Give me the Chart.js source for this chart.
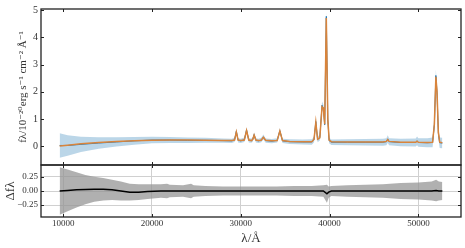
<!DOCTYPE html>
<html>
<head>
<meta charset="utf-8">
<script src="https://cdn.jsdelivr.net/npm/chart.js@4.4.1/dist/chart.umd.min.js"></script>
<style>
  body { margin: 0; background: #fff; }
  #wrap { position: relative; width: 465px; height: 248px; }
  canvas { position: absolute; left: 0; top: 0; }
</style>
</head>
<body>
<div id="wrap">
  <canvas id="spec" width="465" height="248"></canvas>
  <canvas id="resid" width="465" height="248"></canvas>
</div>
<script>
// spectrum (top panel), wavelength in Angstrom
const wave = [9600, 10500, 12000, 14000, 16000, 18000, 20000, 22000, 24000, 26000,
  28000, 29000, 29300, 29500, 29700, 30000, 30400, 30650, 30900, 31200,
  31350, 31500, 31700, 32000, 32300, 32550, 32800, 33500, 34100, 34400,
  34700, 35500, 37000, 38000, 38250, 38450, 38650, 38900, 39150, 39300,
  39450, 39630, 39800, 39950, 40200, 42000, 44000, 46000, 46400, 46550,
  46700, 48000, 49700, 49850, 50000, 51000, 51600, 51800, 51970, 52100,
  52250, 52400, 52700];
const fluxObs = [0.02, 0.02, 0.06, 0.11, 0.15, 0.19, 0.22, 0.22, 0.21, 0.21,
  0.20, 0.19, 0.23, 0.54, 0.21, 0.19, 0.23, 0.59, 0.21, 0.20,
  0.24, 0.42, 0.21, 0.19, 0.22, 0.33, 0.20, 0.18, 0.21, 0.56,
  0.19, 0.16, 0.15, 0.15, 0.24, 0.90, 0.24, 0.31, 1.50, 1.38,
  0.78, 4.78, 0.96, 0.20, 0.14, 0.14, 0.14, 0.14, 0.16, 0.26,
  0.16, 0.13, 0.13, 0.19, 0.13, 0.12, 0.13, 0.78, 2.60, 1.96,
  0.48, 0.12, 0.11];
const fluxModel = [0.00, 0.03, 0.08, 0.13, 0.17, 0.19, 0.21, 0.22, 0.22, 0.21,
  0.20, 0.20, 0.22, 0.52, 0.22, 0.20, 0.22, 0.57, 0.22, 0.20,
  0.25, 0.40, 0.22, 0.20, 0.21, 0.32, 0.21, 0.19, 0.20, 0.55,
  0.20, 0.17, 0.16, 0.16, 0.25, 0.88, 0.25, 0.30, 1.45, 1.40,
  0.80, 4.72, 1.00, 0.22, 0.16, 0.15, 0.15, 0.15, 0.17, 0.24,
  0.17, 0.14, 0.14, 0.18, 0.14, 0.13, 0.14, 0.80, 2.55, 2.00,
  0.50, 0.14, 0.12];
const fluxErr = [0.45, 0.38, 0.28, 0.21, 0.17, 0.14, 0.12, 0.11, 0.10, 0.09,
  0.08, 0.08, 0.08, 0.10, 0.08, 0.08, 0.08, 0.10, 0.08, 0.08,
  0.08, 0.09, 0.08, 0.08, 0.08, 0.09, 0.08, 0.08, 0.08, 0.10,
  0.08, 0.09, 0.09, 0.10, 0.10, 0.12, 0.10, 0.11, 0.14, 0.14,
  0.12, 0.18, 0.14, 0.10, 0.10, 0.11, 0.12, 0.13, 0.13, 0.14,
  0.13, 0.14, 0.15, 0.16, 0.16, 0.17, 0.18, 0.19, 0.22, 0.21,
  0.19, 0.19, 0.19];

// residuals (bottom panel)
const resWave = [9600, 10500, 11500, 12500, 13500, 14500, 15500, 16500, 17500, 18500,
  19500, 21000, 21700, 22000, 23500, 24400, 24700, 26000, 28000, 30000,
  32000, 34000, 36000, 38000, 39300, 39700, 39900, 40200, 42000, 44000,
  46000, 48000, 50000, 51500, 52000, 52300, 52700];
const resVal = [0.00, 0.01, 0.02, 0.025, 0.03, 0.03, 0.02, 0.00, -0.02, -0.02,
  -0.01, 0.00, 0.00, 0.00, 0.00, 0.00, 0.00, 0.00, 0.00, 0.00,
  0.00, 0.00, 0.00, 0.00, 0.00, -0.05, -0.02, 0.00, 0.00, 0.00,
  0.00, 0.00, 0.00, 0.00, 0.01, 0.00, 0.00];
const resErr = [0.42, 0.37, 0.31, 0.26, 0.22, 0.20, 0.18, 0.17, 0.15, 0.14,
  0.13, 0.12, 0.13, 0.11, 0.10, 0.13, 0.10, 0.09, 0.08, 0.08,
  0.08, 0.08, 0.09, 0.09, 0.10, 0.16, 0.10, 0.09, 0.10, 0.11,
  0.12, 0.14, 0.15, 0.17, 0.19, 0.17, 0.16];

const xTicks = [10000, 20000, 30000, 40000, 50000];
const xMin = 7500, xMax = 54800;

const serif = "'Liberation Serif', 'DejaVu Serif', serif";
const pts = (xs, ys) => xs.map((x, i) => ({ x: x, y: ys[i] }));
const setXTicks = s => { s.ticks = xTicks.map(v => ({ value: v })); };

// matplotlib-style frame with inward ticks on all four sides
const framePlugin = {
    id: 'frame',
    afterDraw(chart) {
        const { ctx, chartArea: a, scales } = chart;
        ctx.save();
        ctx.strokeStyle = '#222';
        ctx.lineWidth = 1;
        ctx.beginPath();
        xTicks.forEach(v => {
            const px = Math.round(scales.x.getPixelForValue(v)) + 0.5;
            ctx.moveTo(px, a.bottom); ctx.lineTo(px, a.bottom - 3);
            ctx.moveTo(px, a.top); ctx.lineTo(px, a.top + 3);
        });
        scales.y.ticks.forEach(t => {
            const py = Math.round(scales.y.getPixelForValue(t.value)) + 0.5;
            ctx.moveTo(a.left, py); ctx.lineTo(a.left + 3, py);
            ctx.moveTo(a.right, py); ctx.lineTo(a.right - 3, py);
        });
        ctx.stroke();
        ctx.lineWidth = 1.3;
        ctx.strokeRect(a.left, a.top, a.width, a.height);
        ctx.restore();
    }
};

function fixWidth(w) { return s => { s.width = w; }; }

new Chart(document.getElementById('spec'), {
    type: 'line',
    data: {
        datasets: [{
            data: pts(wave, fluxObs.map((v, i) => v + fluxErr[i])),
            borderWidth: 0,
            backgroundColor: 'rgba(31, 119, 180, 0.3)',
            fill: '+1',
            pointRadius: 0,
            order: 3
        }, {
            data: pts(wave, fluxObs.map((v, i) => v - fluxErr[i])),
            borderWidth: 0,
            pointRadius: 0,
            fill: false,
            order: 3
        }, {
            data: pts(wave, fluxObs),
            borderColor: '#1f77b4',
            borderWidth: 1,
            pointRadius: 0,
            fill: false,
            order: 2
        }, {
            data: pts(wave, fluxModel),
            borderColor: '#d9843b',
            borderWidth: 1.5,
            pointRadius: 0,
            fill: false,
            order: 1
        }]
    },
    options: {
        responsive: false,
        animation: false,
        layout: { padding: { top: 8, bottom: 83, left: 0, right: 4 } },
        plugins: { legend: { display: false }, tooltip: { enabled: false } },
        scales: {
            x: {
                type: 'linear', min: xMin, max: xMax,
                ticks: { display: false },
                afterBuildTicks: setXTicks,
                grid: { display: false },
                border: { display: false },
                afterFit: s => { s.height = 0; }
            },
            y: {
                min: -0.7, max: 5.05,
                ticks: {
                    stepSize: 1, includeBounds: false, padding: 3,
                    color: '#333', font: { family: serif, size: 10 }
                },
                grid: { display: false, drawTicks: false },
                border: { display: false },
                title: {
                    display: true,
                    text: 'fλ/10⁻²⁰erg s⁻¹ cm⁻² Å⁻¹',
                    color: '#333',
                    font: { family: serif, size: 11 },
                    padding: { top: 17, bottom: 0 }
                },
                afterFit: fixWidth(41)
            }
        }
    },
    plugins: [framePlugin]
});

new Chart(document.getElementById('resid'), {
    type: 'line',
    data: {
        datasets: [{
            data: pts(resWave, resVal.map((v, i) => v + resErr[i])),
            borderWidth: 0,
            backgroundColor: 'rgba(150, 150, 150, 0.75)',
            fill: '+1',
            pointRadius: 0,
            order: 2
        }, {
            data: pts(resWave, resVal.map((v, i) => v - resErr[i])),
            borderWidth: 0,
            pointRadius: 0,
            fill: false,
            order: 2
        }, {
            data: pts(resWave, resVal),
            borderColor: '#000',
            borderWidth: 1.5,
            pointRadius: 0,
            fill: false,
            order: 1
        }]
    },
    options: {
        responsive: false,
        animation: false,
        layout: { padding: { top: 165, bottom: 0, left: 0, right: 4 } },
        plugins: { legend: { display: false }, tooltip: { enabled: false } },
        scales: {
            x: {
                type: 'linear', min: xMin, max: xMax,
                afterBuildTicks: setXTicks,
                ticks: {
                    padding: 1, maxRotation: 0, autoSkip: false,
                    color: '#333', font: { family: serif, size: 9 },
                    callback: v => String(v)
                },
                grid: { color: '#d0d0d0', lineWidth: 1, drawTicks: false },
                border: { display: false },
                title: {
                    display: true, text: 'λ/Å', color: '#333',
                    font: { family: serif, size: 13 },
                    padding: { top: 2, bottom: 2 }
                },
                afterFit: s => { s.height = 31; }
            },
            y: {
                min: -0.46, max: 0.46,
                ticks: {
                    stepSize: 0.25, includeBounds: false, padding: 3,
                    color: '#333', font: { family: serif, size: 9 },
                    callback: v => (v < 0 ? '\u2212' : '') + Math.abs(v).toFixed(2)
                },
                grid: { color: '#d0d0d0', lineWidth: 1, drawTicks: false },
                border: { display: false },
                title: {
                    display: true, text: 'Δfλ', color: '#333',
                    font: { family: serif, size: 13 },
                    padding: { top: 3, bottom: 0 }
                },
                afterFit: fixWidth(41)
            }
        }
    },
    plugins: [framePlugin]
});
</script>
</body>
</html>
